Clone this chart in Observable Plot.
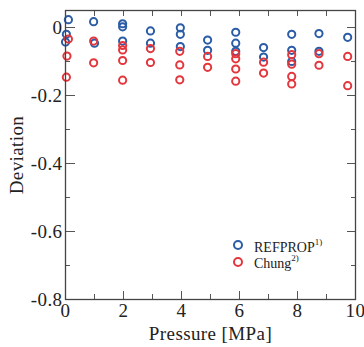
<!DOCTYPE html>
<html>
<head>
<meta charset="utf-8">
<script src="https://cdn.jsdelivr.net/npm/d3@7"></script>
<script src="https://cdn.jsdelivr.net/npm/@observablehq/plot@0.6"></script>
<style>
  html, body { margin: 0; padding: 0; background: #fff; }
  #wrap { position: relative; width: 364px; height: 347px; }
  #wrap svg text { letter-spacing: 0.4px; }
  .leg { position: absolute; left: 233px; font-family: "Liberation Serif", serif; font-size: 14px; color: #222; line-height: 14px; }
  .leg .row { display: flex; align-items: center; height: 16.5px; }
  .leg .c { width: 6px; height: 6px; border-radius: 50%; border: 2px solid; margin-right: 11px; }
  .leg sup { font-size: 9px; position: relative; top: -1px; }
</style>
</head>
<body>
<div id="wrap"></div>
<script>
// Data
const refPressure = [0.1, 0.03, 0.0, 0.97, 1.0, 1.97, 1.97, 1.97, 2.93, 2.93, 3.96, 3.96, 3.96, 4.9, 4.9, 5.87, 5.87, 5.87, 6.83, 6.83, 7.8, 7.8, 7.8, 8.74, 8.74, 9.73];
const refDeviation = [0.023, -0.020, -0.043, 0.017, -0.046, 0.011, 0.002, -0.040, -0.010, -0.046, -0.001, -0.020, -0.056, -0.037, -0.067, -0.014, -0.046, -0.070, -0.059, -0.087, -0.020, -0.067, -0.100, -0.018, -0.070, -0.029];
const chungPressure = [0.1, 0.05, 0.03, 0.97, 0.97, 1.97, 1.97, 1.97, 1.97, 2.93, 2.93, 3.94, 3.94, 3.94, 4.9, 4.9, 5.87, 5.87, 5.87, 5.87, 6.83, 6.83, 7.8, 7.8, 7.8, 7.8, 8.74, 8.74, 9.73, 9.73];
const chungDeviation = [-0.034, -0.084, -0.146, -0.040, -0.104, -0.053, -0.066, -0.097, -0.155, -0.062, -0.103, -0.070, -0.110, -0.154, -0.085, -0.117, -0.077, -0.092, -0.122, -0.158, -0.102, -0.134, -0.080, -0.108, -0.144, -0.166, -0.077, -0.111, -0.085, -0.171];
const xMajor = [0, 2, 4, 6, 8, 10];
const xMinor = [1, 3, 5, 7, 9];
const yMajor = [0, -0.2, -0.4, -0.6, -0.8];
const yMinor = [-0.1, -0.3, -0.5, -0.7];
const seriesNames = ["REFPROP", "Chung"];
const seriesNotes = ["1)", "2)"];
const seriesColors = ["#2b5ca6", "#e3363d"];

const refData = refPressure.map((p, i) => ({p, d: refDeviation[i]}));
const chungData = chungPressure.map((p, i) => ({p, d: chungDeviation[i]}));
const fmtY = d => d === 0 ? "0" : d.toFixed(1);
const tickStroke = "#555";
const FONT = "'Liberation Serif', 'Times New Roman', serif";

const chart = Plot.plot({
  width: 364,
  height: 347,
  marginLeft: 65,
  marginRight: 9,
  marginTop: 10,
  marginBottom: 48,
  style: {fontFamily: FONT, fontSize: "19px", color: "#222", background: "#fff", overflow: "visible"},
  x: {domain: [0, 10]},
  y: {domain: [-0.8, 0.05]},
  marks: [
    Plot.dot(refData, {x: "p", y: "d", r: 3.6, stroke: seriesColors[0], strokeWidth: 2, fill: "none"}),
    Plot.dot(chungData, {x: "p", y: "d", r: 3.6, stroke: seriesColors[1], strokeWidth: 2, fill: "none"}),
    // inward ticks, all four sides
    Plot.axisX(xMajor, {anchor: "bottom", tickSize: -8, tickFormat: () => "", label: null, stroke: tickStroke}),
    Plot.axisX(xMinor, {anchor: "bottom", tickSize: -5, tickFormat: () => "", label: null, stroke: tickStroke}),
    Plot.axisX(xMajor, {anchor: "top", tickSize: -5, tickFormat: () => "", label: null, stroke: tickStroke}),
    Plot.axisX(xMinor, {anchor: "top", tickSize: -5, tickFormat: () => "", label: null, stroke: tickStroke}),
    Plot.axisY(yMajor, {anchor: "left", tickSize: -10, tickFormat: () => "", label: null, stroke: tickStroke}),
    Plot.axisY(yMinor, {anchor: "left", tickSize: -5, tickFormat: () => "", label: null, stroke: tickStroke}),
    Plot.axisY(yMajor, {anchor: "right", tickSize: -9, tickFormat: () => "", label: null, stroke: tickStroke}),
    Plot.axisY(yMinor, {anchor: "right", tickSize: -5, tickFormat: () => "", label: null, stroke: tickStroke}),
    // labels
    Plot.axisX(xMajor, {anchor: "bottom", tickSize: 0, tickPadding: 4, fontSize: 19, fontFamily: FONT, label: "Pressure [MPa]", labelAnchor: "center", labelOffset: 40, labelArrow: "none", fill: "#222"}),
    Plot.axisY(yMajor, {anchor: "left", tickSize: 0, tickPadding: 3, fontSize: 19, fontFamily: FONT, tickFormat: fmtY, label: "Deviation", labelAnchor: "center", labelOffset: 56, labelArrow: "none", fill: "#222"}),
    Plot.frame({stroke: "#444", strokeWidth: 1.3})
  ]
});

const wrap = document.getElementById("wrap");
wrap.appendChild(chart);
const leg = document.createElement("div");
leg.className = "leg";
leg.style.top = "237px";
seriesNames.forEach((name, i) => {
  const row = document.createElement("div");
  row.className = "row";
  const c = document.createElement("span");
  c.className = "c";
  c.style.borderColor = seriesColors[i];
  const t = document.createElement("span");
  t.innerHTML = name + "<sup>" + seriesNotes[i] + "</sup>";
  row.appendChild(c);
  row.appendChild(t);
  leg.appendChild(row);
});
wrap.appendChild(leg);
</script>
</body>
</html>
